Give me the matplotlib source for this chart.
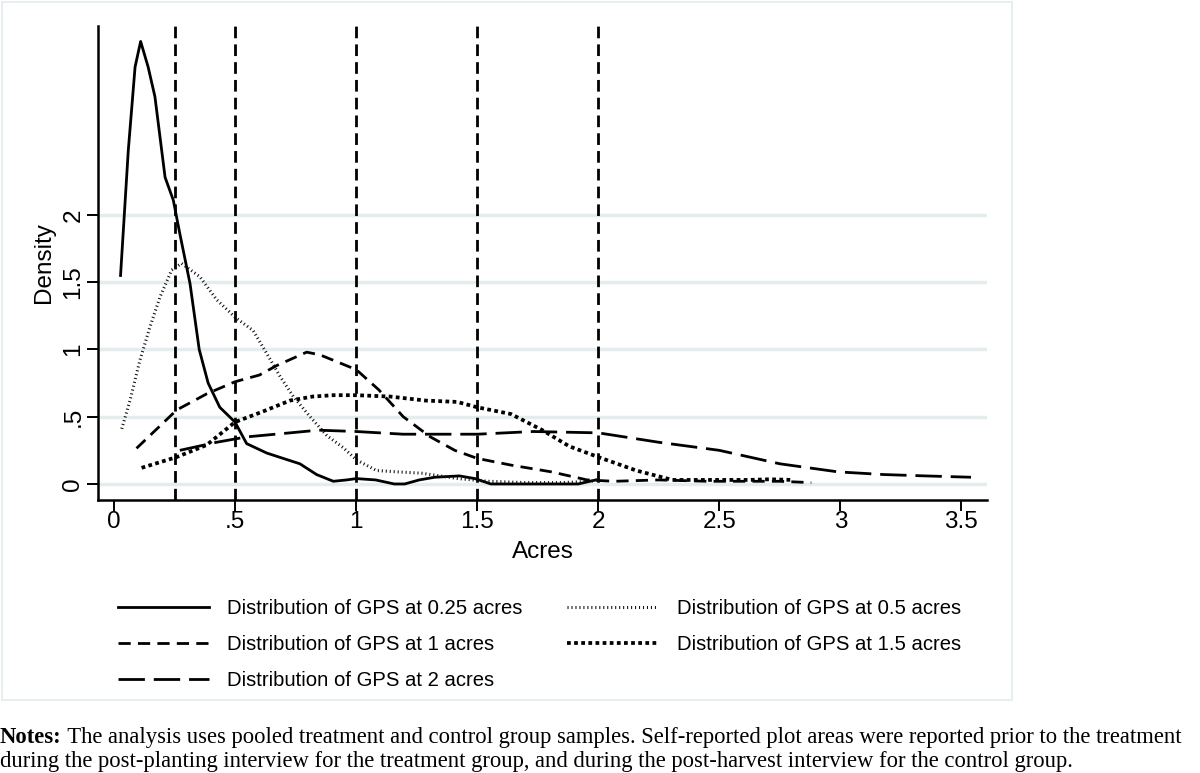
import matplotlib
matplotlib.use("Agg")
from matplotlib import pyplot as plt
from matplotlib.patches import Rectangle

plt.rcParams['font.family'] = ['Liberation Sans', 'DejaVu Sans']

# densities
x_025 = [0.026, 0.058, 0.086, 0.109, 0.14, 0.168, 0.21, 0.244, 0.271, 0.313, 0.351, 0.388,
         0.436, 0.499, 0.547, 0.63, 0.698, 0.767, 0.836, 0.905, 0.96, 1.0, 1.08, 1.157,
         1.2, 1.26, 1.324, 1.426, 1.49, 1.556, 1.65, 1.8, 1.917, 1.99]
y_025 = [1.55, 2.48, 3.10, 3.29, 3.10, 2.88, 2.28, 2.11, 1.86, 1.49, 1.0, 0.75,
         0.57, 0.46, 0.30, 0.23, 0.19, 0.15, 0.07, 0.02, 0.03, 0.04, 0.03, 0.0,
         0.0, 0.03, 0.05, 0.06, 0.04, 0.0, 0.0, 0.0, 0.0, 0.03]

x_05 = [0.031, 0.065, 0.106, 0.148, 0.189, 0.237, 0.278, 0.354, 0.423, 0.499, 0.574, 0.63,
        0.685, 0.74, 0.809, 0.878, 0.946, 1.0, 1.083, 1.17, 1.27, 1.42, 1.546, 1.7,
        1.85, 1.97, 2.0]
y_05 = [0.41, 0.62, 0.92, 1.17, 1.39, 1.59, 1.64, 1.54, 1.37, 1.24, 1.14, 0.97,
        0.80, 0.65, 0.50, 0.36, 0.27, 0.18, 0.10, 0.09, 0.08, 0.04, 0.02, 0.01,
        0.01, 0.02, 0.03]

x_1 = [0.092, 0.258, 0.382, 0.499, 0.6, 0.671, 0.795, 0.85, 1.0, 1.093, 1.194, 1.306,
       1.407, 1.5, 1.64, 1.806, 1.954, 2.065, 2.25, 2.45, 2.62, 2.75, 2.88]
y_1 = [0.265, 0.55, 0.67, 0.76, 0.81, 0.88, 0.98, 0.96, 0.85, 0.70, 0.50, 0.35,
       0.25, 0.19, 0.14, 0.09, 0.03, 0.02, 0.03, 0.02, 0.02, 0.02, 0.01]

x_15 = [0.113, 0.258, 0.382, 0.499, 0.616, 0.726, 0.82, 0.905, 1.0, 1.139, 1.287, 1.417,
        1.5, 1.639, 1.769, 1.88, 2.0, 2.157, 2.306, 2.44, 2.62, 2.71, 2.8]
y_15 = [0.12, 0.20, 0.29, 0.46, 0.54, 0.62, 0.65, 0.66, 0.66, 0.65, 0.62, 0.61,
        0.57, 0.52, 0.40, 0.28, 0.20, 0.10, 0.03, 0.03, 0.03, 0.035, 0.03]

x_2 = [0.271, 0.423, 0.547, 0.726, 0.843, 1.0, 1.194, 1.5, 1.731, 2.0, 2.25, 2.5,
       2.75, 2.99, 3.18, 3.35, 3.54]
y_2 = [0.25, 0.31, 0.35, 0.38, 0.40, 0.39, 0.37, 0.37, 0.39, 0.38, 0.31, 0.25,
       0.15, 0.09, 0.07, 0.06, 0.05]

true_sizes = [0.25, 0.5, 1, 1.5, 2]

x_ticks = [0, 0.5, 1, 1.5, 2, 2.5, 3, 3.5]
x_labels = ["0", ".5", "1", "1.5", "2", "2.5", "3", "3.5"]
y_ticks = [0, 0.5, 1, 1.5, 2]
y_labels = ["0", ".5", "1", "1.5", "2"]

fig = plt.figure(figsize=(12, 7.73), dpi=100)
ax = fig.add_axes([0.0819, 0.3532, 0.7406, 0.6132])

for v in true_sizes:
    ax.axvline(v, color='black', lw=2.0, ls=(0, (4.2, 2.2)), zorder=2)

l1, = ax.plot(x_025, y_025, color='black', lw=2.0, ls='-', zorder=3,
              label='Distribution of GPS at 0.25 acres')
l2, = ax.plot(x_05, y_05, color='#111111', lw=2.2, ls=(0, (0.35, 0.95)), zorder=3,
              label='Distribution of GPS at 0.5 acres')
l3, = ax.plot(x_1, y_1, color='black', lw=2.0, ls=(0, (4.4, 2.6)), zorder=3,
              label='Distribution of GPS at 1 acres')
l4, = ax.plot(x_15, y_15, color='black', lw=2.7, ls=(0, (1.0, 0.9)), zorder=3,
              label='Distribution of GPS at 1.5 acres')
l5, = ax.plot(x_2, y_2, color='black', lw=2.0, ls=(0, (9.5, 3.2)), zorder=3,
              label='Distribution of GPS at 2 acres')

ax.set_xlim(-0.066, 3.606)
ax.set_ylim(-0.119, 3.405)
ax.set_xticks(x_ticks)
ax.set_xticklabels(x_labels)
ax.set_yticks(y_ticks)
ax.set_yticklabels(y_labels, rotation=90, va='center')
ax.tick_params(direction='out', length=8, width=1.4, labelsize=17.5, pad=0)
ax.tick_params(axis='y', pad=2)
ax.set_xlabel('Acres', fontsize=17.5, labelpad=6)
ax.set_ylabel('Density', fontsize=17.5, labelpad=5.5)

ax.yaxis.grid(True, color='#e4edee', lw=2.5)
ax.set_axisbelow(True)
for s in ['top', 'right']:
    ax.spines[s].set_visible(False)
for s in ['left', 'bottom']:
    ax.spines[s].set_linewidth(1.8)

# legend: first column 0.25 / 1 / 2, second 0.5 / 1.5
fig.legend(handles=[l1, l3, l5, l2, l4], ncol=2, frameon=False, fontsize=14.6,
           loc='upper left', bbox_to_anchor=(0.0983, 0.2252),
           handlelength=4.5, handletextpad=0.89, columnspacing=2.2, labelspacing=0.84,
           borderaxespad=0, borderpad=0)

# faint graph-region border
fig.patches.append(Rectangle((2 / 1200, 1 - 700 / 773), 1010 / 1200, 698 / 773,
                             transform=fig.transFigure, fill=False,
                             edgecolor='#e3ebed', lw=1.2))

t = fig.text(0.0, 1 - 743 / 773, 'Notes:', fontsize=16.3, fontweight='bold',
             family='Liberation Serif', va='baseline')
fig.text(0.0, 1 - 767 / 773,
         'during the post-planting interview for the treatment group, and during the post-harvest interview for the control group.',
         fontsize=16.3, family='Liberation Serif', va='baseline')
plt.annotate(' The analysis uses pooled treatment and control group samples. Self-reported plot areas were reported prior to the treatment',
             xy=(1, 0), xycoords=t, va='bottom', ha='left',
             fontsize=16.3, family='Liberation Serif', annotation_clip=False)

fig.savefig('out.png', dpi=100)
